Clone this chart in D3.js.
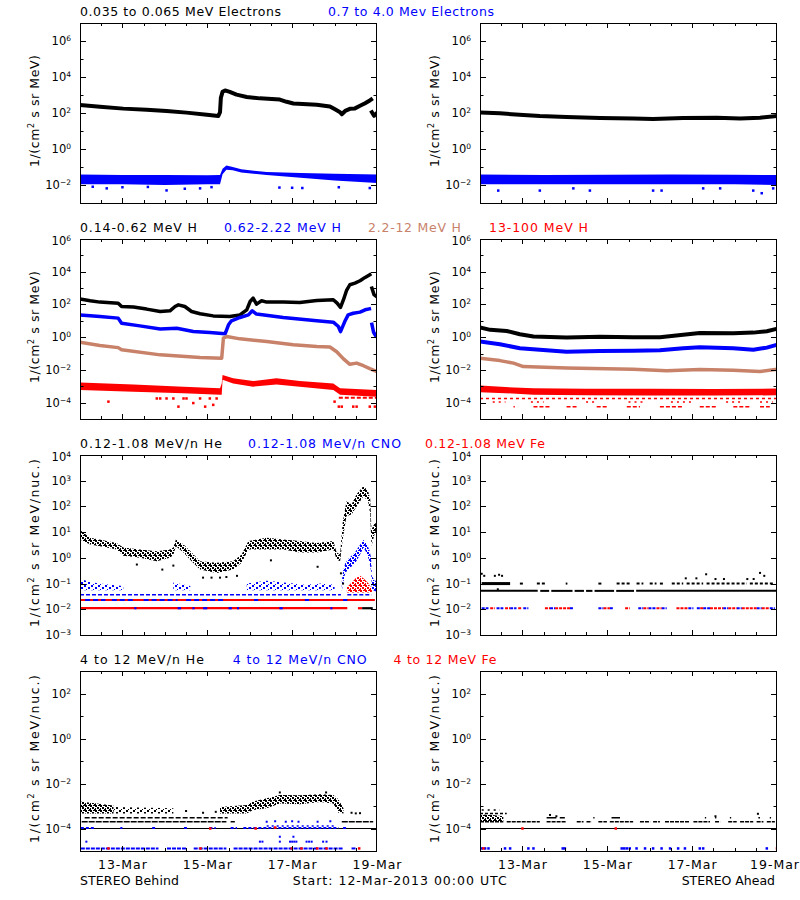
<!DOCTYPE html>
<html><head><meta charset="utf-8">
<script src="https://cdn.jsdelivr.net/npm/d3@7"></script>
<style>
body{margin:0;background:#fff}
svg{display:block}
text{font-family:"DejaVu Sans",sans-serif}
</style></head><body>
<svg id="c" width="800" height="900"></svg>
<script>
// ================= DATA =================
const START = Date.UTC(2013, 2, 12);   // 12-Mar-2013 00:00 UTC
const SPAN_DAYS = 7;
const xTickDays = [1, 3, 5, 7];

const titles = [
  [["0.035 to 0.065 MeV Electrons", "#000000"], ["0.7 to 4.0 Mev Electrons", "#0000ff"]],
  [["0.14-0.62 MeV H", "#000000"], ["0.62-2.22 MeV H", "#0000ff"], ["2.2-12 MeV H", "#c8826a"], ["13-100 MeV H", "#ff0000"]],
  [["0.12-1.08 MeV/n He", "#000000"], ["0.12-1.08 MeV/n CNO", "#0000ff"], ["0.12-1.08 MeV Fe", "#ff0000"]],
  [["4 to 12 MeV/n He", "#000000"], ["4 to 12 MeV/n CNO", "#0000ff"], ["4 to 12 MeV Fe", "#ff0000"]]
];
const yDomains = [[1e-3, 1e7], [1e-5, 1e6], [1e-3, 1e4], [1e-5, 1e3]];
const yLabelTicks = [
  [1e-2, 1, 1e2, 1e4, 1e6],
  [1e-4, 1e-2, 1, 1e2, 1e4, 1e6],
  [1e-3, 1e-2, 1e-1, 1, 10, 100, 1e3, 1e4],
  [1e-4, 1e-2, 1, 1e2]
];
const yTitleUnits = ["MeV)", "MeV)", "MeV/nuc.)", "MeV/nuc.)"];
const footer = ["STEREO Behind", "Start: 12-Mar-2013 00:00 UTC", "STEREO Ahead"];

// ---- Row 1: electrons  [day, flux] ----
const behindElecLow = [[0,280],[0.47,220],[1.02,175],[1.57,150],[2.04,130],[2.51,105],[2.99,80],[3.26,68],[3.3,110],[3.32,700],[3.36,1500],[3.42,1800],[3.53,1500],[3.69,1050],[3.93,780],[4.24,650],[4.71,560],[4.87,420],[5.03,340],[5.58,290],[5.89,230],[6.01,160],[6.13,110],[6.17,85],[6.25,130],[6.36,170],[6.48,180],[6.6,250],[6.72,350],[6.83,500],[6.86,560],null,[6.88,110],[6.93,70],[6.99,95]];
const behindElecHigh = [[0,0.011,0.038],[1,0.011,0.036],[2,0.010,0.036],[3,0.011,0.035],[3.3,0.011,0.036],[3.36,0.04,0.08],[3.45,0.07,0.12],[3.6,0.065,0.1],[3.8,0.05,0.075],[4.4,0.036,0.052],[5.2,0.025,0.046],[6.0,0.018,0.042],[7,0.013,0.038]];
const behindElecHighOut = [[0.3,0.008],[0.63,0.0065],[1.0,0.0075],[1.6,0.0078],[2.04,0.005],[2.47,0.0062],[2.83,0.0065],[3.1,0.0076],[4.7,0.0072],[5.0,0.007],[5.24,0.0068],[6.1,0.0075],[6.83,0.0068]];
const aheadElecLow = [[0,108],[0.47,96],[1.02,77],[1.41,68],[2.04,60],[2.83,53],[3.61,50],[4.08,46],[4.79,53],[5.58,55],[6.13,50],[6.6,55],[6.99,68]];
const aheadElecHigh = [[0,0.011,0.038],[1.5,0.011,0.036],[3,0.011,0.037],[4.5,0.011,0.038],[6,0.011,0.037],[7,0.010,0.036]];
const aheadElecHighOut = [[0.43,0.0049],[1.41,0.0049],[2.2,0.0065],[2.59,0.0049],[4.08,0.0049],[4.28,0.0049],[5.26,0.0065],[5.66,0.0065],[6.44,0.0049],[6.64,0.0035],[6.91,0.0065]];

// ---- Row 2: protons ----
const behindH1 = [[0,213],[0.24,168],[0.47,139],[0.9,120],[0.98,75],[1.26,69],[1.57,52],[1.89,37],[2.12,41],[2.24,75],[2.32,95],[2.47,75],[2.63,37],[2.83,27],[3.14,20],[3.53,18.5],[3.77,23],[3.93,47],[4.01,152],[4.08,245],[4.16,105],[4.28,168],[4.4,139],[4.79,139],[5.18,133],[5.58,175],[5.97,194],[6.06,120],[6.14,66],[6.21,195],[6.28,690],[6.36,1600],[6.48,2000],[6.6,2800],[6.72,4500],[6.83,6600],null,[6.88,1000],[6.93,400],[6.99,300]];
const behindH2 = [[0,23],[0.47,18.5],[0.9,14.6],[0.98,7.2],[1.41,4.9],[1.89,3.2],[2.28,3.5],[2.67,2.2],[3.06,1.9],[3.42,1.6],[3.5,5.7],[3.57,10],[3.77,16],[3.97,23],[4.06,41],[4.16,26],[4.79,16],[5.58,10],[5.97,8.3],[6.09,4.5],[6.14,2.2],[6.24,9],[6.32,23],[6.44,29],[6.6,34],[6.72,47],[6.82,54],null,[6.88,6],[6.92,2],[6.97,1.2]];
const behindH3 = [[0,0.49],[0.47,0.31],[0.9,0.23],[0.98,0.17],[1.89,0.083],[2.83,0.057],[3.34,0.052],[3.38,0.87],[3.46,1.1],[3.77,0.79],[4.4,0.54],[5.03,0.34],[5.58,0.27],[5.89,0.25],[6.05,0.13],[6.21,0.047],[6.36,0.022],[6.52,0.026],[6.68,0.018],[6.83,0.012],[6.99,0.008]];
const behindH4 = [[0,6e-4,1.7e-3],[1.26,4.7e-4,1.3e-3],[2.44,3.7e-4,9.5e-4],[3.3,3e-4,7.6e-4],[3.34,3e-4,1.5e-3],[3.36,2.5e-3,4.9e-3],[3.61,1.5e-3,3.1e-3],[4.08,9.5e-4,2.1e-3],[4.63,1.3e-3,3.1e-3],[5.18,9.5e-4,2.1e-3],[5.97,6e-4,1.5e-3],[6.13,3e-4,7.6e-4],[6.99,2.3e-4,6e-4]];
const behindH4Out = [[0.67,1.15e-4],[1.81,1.8e-4],[1.89,1.8e-4],[2.04,1.8e-4],[2.2,1.8e-4],[2.32,5.7e-5],[2.44,1.8e-4],[2.51,1.8e-4],[2.67,9.4e-5],[2.83,1.8e-4],[2.95,5.7e-5],[3.06,1.8e-4],[3.14,7.3e-5],[3.22,1.8e-4],[6.0,1.15e-4],[6.1,5.7e-5],[6.17,5.7e-5],[6.44,5.7e-5],[6.52,5.7e-5],[6.83,5.7e-5],[6.95,5.7e-5]];
const behindH4Row = [[6.1, 7.0]];            // dense dots at 2e-4
const aheadH1 = [[0,3.9],[0.24,2.8],[0.63,2.4],[0.94,1.5],[1.26,1.1],[2.04,0.95],[2.83,1.05],[3.61,1.0],[4.24,1.0],[4.79,1.4],[5.18,1.8],[5.97,1.75],[6.44,1.9],[6.76,2.3],[6.99,3.2]];
const aheadH2 = [[0,0.54],[0.47,0.37],[0.94,0.21],[1.41,0.17],[2.04,0.13],[2.83,0.145],[3.61,0.15],[4.24,0.16],[4.79,0.21],[5.18,0.24],[5.97,0.21],[6.44,0.17],[6.76,0.23],[6.99,0.34]];
const aheadH3 = [[0,0.052],[0.47,0.037],[0.79,0.026],[1.02,0.016],[2.04,0.013],[3.61,0.011],[4.4,0.009],[5.18,0.0105],[5.97,0.0095],[6.6,0.008],[6.99,0.011]];
const aheadH4 = [[0,4.3e-4,1.1e-3],[0.6,3.8e-4,9e-4],[1.26,3e-4,7.6e-4],[2.5,2.8e-4,7e-4],[4,2.7e-4,7e-4],[5.5,2.7e-4,6.9e-4],[7,2.8e-4,7.2e-4]];
const aheadH4RowA = [[0,7]];                                  // 1.8e-4
const aheadH4RowB = [[0.3,0.6],[1.2,1.5],[2.5,2.7],[3.5,3.9],[4.5,5.0],[5.8,6.2],[6.6,6.9]];   // 1.1e-4
const aheadH4RowC = [[0.79,0.82],[1.26,1.65],[2.04,2.28],[2.75,2.99],[3.46,3.77],[4.24,4.79],[5.18,5.58],[5.97,6.36],[6.6,6.83]]; // 5.7e-5

// ---- Row 3: 0.12-1.08 MeV/n heavy ions  [day, lo, hi] ----
const behindHeLow = [[0,5.2,12],[0.24,3.3,6],[0.63,2.5,4.5],[0.86,2.1,3.8],[1.02,1.2,2.5],[1.41,1.0,2.1],[1.81,0.74,1.8],[2.12,1.0,2.1],[2.2,1.3,2.5],[2.26,2.8,5.2],[2.44,1.6,3.3],[2.63,0.74,1.6],[2.83,0.35,0.74],[3.22,0.26,0.64],[3.61,0.35,0.74],[3.81,0.64,1.35],[3.97,2.1,4.5],[4.4,2.1,6],[4.79,2.1,5.2],[5.18,1.6,4.5],[5.58,1.6,3.8],[5.97,2.1,4.5],[6.05,0.86,1.6],[6.13,0.74,1.35],[6.19,5,23],[6.28,42,160],[6.4,49,120],[6.52,100,295],[6.68,250,620],[6.79,160,400],[6.84,50,200],[6.87,2.8,12.6],[6.95,9.4,23],[7,12,20]];
const behindHeLowOut = [[1.34,0.55],[1.94,0.35],[2.2,0.5],[2.9,0.17],[3.1,0.17],[3.3,0.17],[3.45,0.18],[3.7,0.2],[5.6,0.45],[4.5,0.8],[6.15,0.25],[6.2,0.1]];
const behindCnoA = [[0,0.055,0.15],[0.3,0.055,0.11],[0.7,0.055,0.09],[1.02,0.055,0.08]];
const behindCnoB = [[2.2,0.055,0.11],[2.6,0.055,0.08]];
const behindCnoC = [[3.93,0.055,0.1],[4.4,0.055,0.13],[4.8,0.055,0.11],[5.3,0.055,0.09],[5.7,0.055,0.1],[6.0,0.055,0.09]];
const behindCnoEvent = [[6.17,0.05,0.12],[6.2,0.1,0.3],[6.25,0.25,0.6],[6.32,0.35,0.9],[6.48,0.6,1.6],[6.56,1.0,2.6],[6.64,1.8,4.0],[6.68,2.5,5.0],[6.76,1.5,3.5],[6.82,0.7,2.0],[6.86,0.3,1.0],[6.88,0.06,0.2],[6.95,0.05,0.12],[7,0.05,0.15]];
const behindFeEvent = [[6.29,0.045,0.07],[6.38,0.045,0.1],[6.5,0.045,0.16],[6.6,0.045,0.2],[6.7,0.045,0.15],[6.8,0.045,0.1],[6.88,0.045,0.06]];
const behindCnoRow037 = [[0,6.15],[6.3,6.87]];
const behindFeRow023 = [[0,6.95]];
const behindCnoRow023 = [[0.12,0.6],[0.75,1.3],[1.5,2.3],[2.5,3.4],[4.1,4.2],[5.3,5.4],[6.2,6.3]];
const behindFeRow011 = [[0,6.3],[6.55,6.65]];
const behindCnoRow011 = [[1.28,1.33],[2.3,2.38],[2.65,2.7],[2.9,3.0],[3.5,3.58],[3.7,3.75],[4.7,4.78],[5.9,5.95]];
const behindHeRow011 = [[6.65,6.9]];
const aheadHeRow052 = [[0,1.36],[1.42,1.63],[1.68,2.18],[2.23,2.45],[2.5,2.65],[2.7,3.16],[3.21,3.63],[3.68,7]];
const aheadHeRow10dense = [[0.04,0.71]];
const aheadHeRow10 = [[0.94,1.02],[1.34,1.53],[2.02,2.06],[2.79,2.87],[3.22,3.54],[3.69,3.85],[4.0,4.16],[4.24,4.32],[4.52,4.79],[4.87,5.26],[5.34,6.29],[6.36,6.95]];
const aheadHeOut = [[0.04,0.24],[0.1,0.2],[0.35,0.2],[0.45,0.22],[0.52,0.2],[0.42,0.06],[4.85,0.16],[5.1,0.16],[5.33,0.23],[5.55,0.15],[5.75,0.15],[6.3,0.15],[6.45,0.15],[6.6,0.26],[6.7,0.2]];
const aheadCnoRow011 = [[0.04,0.2],[0.39,0.55],[0.71,0.86],[1.02,1.14],[1.65,1.77],[2.12,2.2],[2.79,2.91],[3.06,3.14],[3.73,3.85],[3.97,4.16],[4.28,4.4],[4.91,5.03],[5.11,5.19],[5.26,5.42],[5.73,5.85],[6.05,6.17],[6.52,6.64],[6.83,6.95]];
const aheadFeRow011 = [[0.24,0.35],[0.59,0.71],[0.9,0.98],[1.53,1.65],[1.77,2.12],[2.91,3.06],[3.42,3.53],[3.85,3.97],[4.16,4.28],[4.63,4.91],[5.19,5.26],[5.42,5.73],[5.85,6.05],[6.17,6.52],[6.64,6.83]];

// ---- Row 4: 4-12 MeV/n heavy ions ----
const behindHeHighA = [[0,4.7e-4,1.6e-3],[0.4,4.7e-4,1.3e-3],[0.79,4.7e-4,1.05e-3]];
const behindHeHighSparse = [[0.79,4.7e-4,9e-4],[2.2,4.7e-4,8e-4]];
const behindHeHighB = [[3.3,4.7e-4,9e-4],[3.93,4.7e-4,1.1e-3],[4.08,6.6e-4,1.6e-3],[4.4,7.9e-4,2.2e-3],[4.71,1.3e-3,3.1e-3],[5.18,1.2e-3,3e-3],[5.66,1.5e-3,3.3e-3],[5.97,1.3e-3,3.1e-3],[6.09,5e-4,2e-3],[6.21,4.7e-4,8e-4]];
const behindHeHighOut = [[2.5,6e-4],[2.9,5e-4],[3.2,5.5e-4],[4.71,4e-3],[5.8,4e-3],[6.4,5e-4],[6.5,4.7e-4],[6.6,4.8e-4]];
const behindHeHighRow3 = [[0.11,3.48]];              // 3e-4
const behindHeHighRow2 = [[0.04,3.45],[3.55,3.65],[6.17,6.91]];   // 2e-4
const behindCnoHighRow1 = [[0.02,0.35],[0.95,1.0],[1.7,1.8],[2.45,2.55],[3.05,3.2],[3.55,3.7],[3.85,6.1],[6.2,6.3]];
const behindCnoHighRow13 = [[4.4,6.0]];
const behindCnoHighDots = [[4.4,2e-4],[4.6,2.1e-4],[4.85,2e-4],[5.0,2.1e-4],[5.15,2e-4],[5.6,2e-4],[5.9,2.1e-4],[0.15,2.6e-5],[4.24,2.6e-5],[4.3,2.6e-5],[4.71,2.6e-5],[4.95,2.6e-5],[5.0,2.6e-5],[5.05,2.6e-5],[5.1,2.6e-5],[5.34,2.6e-5],[5.4,2.6e-5],[5.46,2.6e-5],[5.73,2.6e-5],[5.81,2.6e-5],[4.71,4.3e-5],[5.03,4.3e-5]];
const behindCnoHighLow = [[0.02,1.85],[2.05,2.5],[2.68,3.45],[3.62,6.21],[6.4,6.5]];   // 1.3e-5
const behindFeHighDots = [[0.67,1.3e-5],[2.84,1.3e-5],[4.99,1.3e-5],[5.22,1.3e-5],[5.59,1.3e-5],[5.81,1.3e-5],[6.58,1.3e-5],[3.07,1e-4],[4.14,1e-4],[4.6,1.1e-4]];
const aheadHeHighA = [[0,2e-4,4.2e-4],[0.3,2e-4,4e-4],[0.55,2e-4,3.5e-4]];
const aheadHeHighRow66 = [[0.04,0.47]];
const aheadHeHighRow47 = [[0,0.63]];
const aheadHeHighRow3 = [[1.57,1.8],[1.88,2.0],[2.67,2.7],[3.1,3.3],[5.3,5.33],[5.54,5.57],[5.89,5.92],[6.56,6.6],[6.83,6.86]];
const aheadHeHighRow2 = [[0,0.55],[0.63,1.41],[1.57,2.04],[2.28,2.44],[2.51,2.63],[2.79,2.99],[3.06,3.61],[3.77,4.01],[4.08,4.24],[4.36,4.95],[5.03,5.42],[5.54,5.66],[5.85,6.05],[6.13,6.44],[6.52,6.68],[6.76,6.95]];
const aheadHeHighOut = [[1.65,4e-4],[1.8,3.5e-4],[5.55,3.5e-4],[6.55,4.5e-4]];
const aheadCnoHighDots = [[0.04,1.3e-5],[0.12,1.3e-5],[0.2,1.3e-5],[0.59,1.3e-5],[0.71,1.3e-5],[1.14,1.3e-5],[1.26,1.3e-5],[1.95,1.3e-5],[2.0,1.3e-5],[3.34,1.3e-5],[3.4,1.3e-5],[3.46,1.3e-5],[3.53,1.3e-5],[3.69,1.3e-5],[3.89,1.3e-5],[4.08,1.3e-5],[4.28,1.3e-5],[4.48,1.3e-5],[4.67,1.3e-5],[4.83,1.3e-5],[5.18,1.3e-5],[5.26,1.3e-5],[6.76,1.3e-5]];
const aheadFeHighDots = [[0.08,1.3e-5],[7.0,1.3e-5],[1.0,1e-4],[3.2,1e-4]];
const fullRow = [[0,7]];

// ================= DRAWING =================
const BLACK = "#000000", BLUE = "#0000ff", BROWN = "#c8826a", RED = "#ff0000";
const T = d => new Date(START + d * 86400000);
const colX = [80, 480], rowTop = [23, 239, 455, 671], W = 297, H = 180;
const svg = d3.select("#c");
const defs = svg.append("defs");

function makePattern(id, color, w, h, rects) {
  const p = defs.append("pattern").attr("id", id).attr("patternUnits", "userSpaceOnUse")
    .attr("width", w).attr("height", h);
  rects.forEach(([rx, ry, rw, rh]) =>
    p.append("rect").attr("x", rx).attr("y", ry).attr("width", rw).attr("height", rh).attr("fill", color));
}
[[BLACK,"k"],[BLUE,"b"],[RED,"r"]].forEach(([c,n]) => {
  makePattern("dense-" + n, c, 5, 5, [[0,0,2,2],[2,2,2,2],[3,0,2,1],[0,3,1,2],[4,4,1,1]]);
  makePattern("sparse-" + n, c, 7, 5, [[0,0,2,2],[4,2,2,2],[2,4,1,1]]);
});

const panels = [
  [ // row 0
    [{type:"band", data:behindElecHigh, fill:BLUE},
     {type:"dots", data:behindElecHighOut, color:BLUE, s:2.5},
     {type:"line", data:behindElecLow, color:BLACK, w:4}],
    [{type:"band", data:aheadElecHigh, fill:BLUE},
     {type:"dots", data:aheadElecHighOut, color:BLUE, s:2.5},
     {type:"line", data:aheadElecLow, color:BLACK, w:4}]
  ],
  [ // row 1
    [{type:"band", data:behindH4, fill:RED},
     {type:"dots", data:behindH4Out, color:RED, s:2.5},
     {type:"rows", value:2e-4, segs:behindH4Row, color:RED, w:2, dash:"4,2"},
     {type:"line", data:behindH1, color:BLACK, w:3.5},
     {type:"line", data:behindH2, color:BLUE, w:3.5},
     {type:"line", data:behindH3, color:BROWN, w:3.5}],
    [{type:"band", data:aheadH4, fill:RED},
     {type:"rows", value:1.8e-4, segs:aheadH4RowA, color:RED, w:1.5, dash:"3,3"},
     {type:"rows", value:1.1e-4, segs:aheadH4RowB, color:RED, w:1.5, dash:"2,4"},
     {type:"rows", value:5.7e-5, segs:aheadH4RowC, color:RED, w:1.5, dash:"4,2"},
     {type:"line", data:aheadH1, color:BLACK, w:4},
     {type:"line", data:aheadH2, color:BLUE, w:4},
     {type:"line", data:aheadH3, color:BROWN, w:3.5}]
  ],
  [ // row 2
    [{type:"rows", value:0.037, segs:behindCnoRow037, color:BLUE, w:1.5, dash:"4,2"},
     {type:"rows", value:0.023, segs:behindFeRow023, color:RED, w:2},
     {type:"rows", value:0.023, segs:behindCnoRow023, color:BLUE, w:2, dash:"5,3"},
     {type:"rows", value:0.011, segs:behindFeRow011, color:RED, w:2.2},
     {type:"rows", value:0.011, segs:behindCnoRow011, color:BLUE, w:2.2},
     {type:"rows", value:0.011, segs:behindHeRow011, color:BLACK, w:2.2},
     {type:"band", data:behindCnoA, fill:"url(#sparse-b)"},
     {type:"band", data:behindCnoB, fill:"url(#sparse-b)"},
     {type:"band", data:behindCnoC, fill:"url(#sparse-b)"},
     {type:"band", data:behindFeEvent, fill:"url(#dense-r)"},
     {type:"band", data:behindCnoEvent, fill:"url(#dense-b)"},
     {type:"band", data:behindHeLow, fill:"url(#dense-k)"},
     {type:"dots", data:behindHeLowOut, color:BLACK, s:2}],
    [{type:"rows", value:0.052, segs:aheadHeRow052, color:BLACK, w:2},
     {type:"rows", value:0.1, segs:aheadHeRow10dense, color:BLACK, w:3},
     {type:"rows", value:0.1, segs:aheadHeRow10, color:BLACK, w:2, dash:"3,2"},
     {type:"dots", data:aheadHeOut, color:BLACK, s:2},
     {type:"rows", value:0.011, segs:aheadCnoRow011, color:BLUE, w:2, dash:"3,1"},
     {type:"rows", value:0.011, segs:aheadFeRow011, color:RED, w:2, dash:"3,1"}]
  ],
  [ // row 3
    [{type:"rows", value:1e-4, segs:fullRow, color:BLACK, w:1},
     {type:"rows", value:3e-4, segs:behindHeHighRow3, color:BLACK, w:1.5, dash:"5,2"},
     {type:"rows", value:2e-4, segs:behindHeHighRow2, color:BLACK, w:1.5, dash:"6,1"},
     {type:"band", data:behindHeHighA, fill:"url(#dense-k)"},
     {type:"band", data:behindHeHighSparse, fill:"url(#sparse-k)"},
     {type:"band", data:behindHeHighB, fill:"url(#dense-k)"},
     {type:"dots", data:behindHeHighOut, color:BLACK, s:2},
     {type:"rows", value:1.05e-4, segs:behindCnoHighRow1, color:BLUE, w:2, dash:"3,2"},
     {type:"rows", value:1.3e-4, segs:behindCnoHighRow13, color:BLUE, w:1.5, dash:"2,3"},
     {type:"dots", data:behindCnoHighDots, color:BLUE, s:2},
     {type:"rows", value:1.3e-5, segs:behindCnoHighLow, color:BLUE, w:2, dash:"4,1"},
     {type:"dots", data:behindFeHighDots, color:RED, s:2.5}],
    [{type:"rows", value:1e-4, segs:fullRow, color:BLACK, w:1},
     {type:"band", data:aheadHeHighA, fill:"url(#dense-k)"},
     {type:"rows", value:6.6e-4, segs:aheadHeHighRow66, color:BLACK, w:1.5, dash:"2,4"},
     {type:"rows", value:4.7e-4, segs:aheadHeHighRow47, color:BLACK, w:1.5, dash:"3,2"},
     {type:"rows", value:3e-4, segs:aheadHeHighRow3, color:BLACK, w:1.5},
     {type:"rows", value:2e-4, segs:aheadHeHighRow2, color:BLACK, w:1.5, dash:"4,1"},
     {type:"dots", data:aheadHeHighOut, color:BLACK, s:2},
     {type:"dots", data:aheadCnoHighDots, color:BLUE, s:2.5},
     {type:"dots", data:aheadFeHighDots, color:RED, s:2.5}]
  ]
];

function superLabel(g, xEnd, yBase, base, exp, fs, fsSup, dy) {
  const t = g.append("text").attr("x", xEnd).attr("y", yBase).attr("text-anchor", "end")
    .attr("font-size", fs).attr("fill", "#000");
  t.append("tspan").text(base);
  t.append("tspan").attr("font-size", fsSup).attr("dy", dy).text(exp);
}

function drawPanel(r, c) {
  const x0 = colX[c], top = rowTop[r];
  const x = d3.scaleUtc().domain([T(0), T(SPAN_DAYS)]).range([x0, x0 + W]);
  const y = d3.scaleLog().domain(yDomains[r]).range([top + H, top]);
  const g = svg.append("g");
  const cid = `clip-${r}-${c}`;
  defs.append("clipPath").attr("id", cid).append("rect")
    .attr("x", x0).attr("y", top).attr("width", W).attr("height", H);
  const dg = g.append("g").attr("clip-path", `url(#${cid})`);

  panels[r][c].forEach(L => {
    if (L.type === "line") {
      const line = d3.line().defined(d => d !== null)
        .x(d => x(T(d[0]))).y(d => y(d[1]));
      dg.append("path").attr("d", line(L.data)).attr("fill", "none")
        .attr("stroke", L.color).attr("stroke-width", L.w)
        .attr("stroke-linejoin", "round").attr("stroke-linecap", "square");
    } else if (L.type === "band") {
      const area = d3.area().x(d => x(T(d[0]))).y0(d => y(d[1])).y1(d => y(d[2]));
      dg.append("path").attr("d", area(L.data)).attr("fill", L.fill);
    } else if (L.type === "dots") {
      dg.selectAll(null).data(L.data).join("rect")
        .attr("x", d => x(T(d[0])) - L.s / 2).attr("y", d => y(d[1]) - L.s / 2)
        .attr("width", L.s).attr("height", L.s).attr("fill", L.color);
    } else if (L.type === "rows") {
      dg.selectAll(null).data(L.segs).join("line")
        .attr("x1", d => x(T(d[0]))).attr("x2", d => x(T(d[1])))
        .attr("y1", y(L.value)).attr("y2", y(L.value))
        .attr("stroke", L.color).attr("stroke-width", L.w)
        .attr("stroke-dasharray", L.dash || null);
    }
  });

  // frame
  g.append("rect").attr("x", x0 + 0.5).attr("y", top + 0.5).attr("width", W - 1).attr("height", H)
    .attr("fill", "none").attr("stroke", "#000").attr("stroke-width", 1);

  // x ticks (inward, bottom & top)
  const minor = d3.utcHour.every(12).range(T(0), T(SPAN_DAYS));
  const major = [T(1), T(3), T(5)];
  const tg = g.append("g").attr("stroke", "#000").attr("stroke-width", 1);
  const xt = (ticks, len) => ticks.forEach(t => {
    const xx = Math.round(x(t)) + 0.5;
    tg.append("line").attr("x1", xx).attr("x2", xx).attr("y1", top + H).attr("y2", top + H - len);
    tg.append("line").attr("x1", xx).attr("x2", xx).attr("y1", top).attr("y2", top + len);
  });
  xt(minor.filter(t => +t > +T(0)), 3);
  xt(major, 5);

  // y ticks (inward, left & right)
  const [lo, hi] = yDomains[r];
  const decades = d3.range(Math.round(Math.log10(lo)) + 1, Math.round(Math.log10(hi))).map(e => Math.pow(10, e));
  const labeled = new Set(yLabelTicks[r].map(v => Math.round(Math.log10(v))));
  decades.forEach(v => {
    const e = Math.round(Math.log10(v));
    const len = labeled.has(e) ? 6 : 3.5;
    const yy = Math.round(y(v)) + 0.5;
    tg.append("line").attr("x1", x0).attr("x2", x0 + len).attr("y1", yy).attr("y2", yy);
    tg.append("line").attr("x1", x0 + W).attr("x2", x0 + W - len).attr("y1", yy).attr("y2", yy);
  });
  yLabelTicks[r].forEach(v => {
    const e = Math.round(Math.log10(v));
    const yy = y(v);
    const atTop = Math.abs(yy - top) < 2;
    superLabel(g, x0 - 9, yy + (atTop ? 6 : 4), "10", e < 0 ? "\u2212" + (-e) : String(e), 11.5, 7.5, -4);
  });

  // y title
  const yt = g.append("text").attr("font-size", 12.5).attr("text-anchor", "middle")
    .attr("transform", `translate(${x0 - 41},${top + H / 2 - 2}) rotate(-90)`)
    .attr("textLength", r < 2 ? 112 : 168).attr("lengthAdjust", "spacing");
  yt.append("tspan").text("1/(cm");
  yt.append("tspan").attr("font-size", 8).attr("dy", -5).text("2");
  yt.append("tspan").attr("dy", 5).text(" s sr " + yTitleUnits[r]);

  // x tick labels on last row
  if (r === 3) {
    const fmt = d3.utcFormat("%d-%b");
    xTickDays.forEach(dd => {
      const xx = Math.min(x(T(dd)), 800 - 25.5);
      g.append("text").attr("x", xx).attr("y", top + H + 18).attr("text-anchor", "middle")
        .attr("font-size", 12.5).attr("textLength", 49).attr("lengthAdjust", "spacing")
        .text(fmt(T(dd)));
    });
  }
}

for (let r = 0; r < 4; r++) for (let c = 0; c < 2; c++) drawPanel(r, c);

// titles
const titleX = [[80, 328], [80, 224, 368, 489], [80, 248, 425], [80, 232.7, 393.5]];
const titleW = [[201, 166], [117, 117, 93, 99], [142, 153, 120], [124, 134, 103]];
titles.forEach((row, r) => row.forEach(([txt, col], i) => {
  svg.append("text").attr("x", titleX[r][i]).attr("y", rowTop[r] - 7)
    .attr("font-size", 12.5).attr("fill", col)
    .attr("textLength", titleW[r][i]).attr("lengthAdjust", "spacing").text(txt);
}));

// footer
const footX = [80, 292.7, 681.7], footW = [99, 214, 93.3];
footer.forEach((txt, i) => {
  svg.append("text").attr("x", footX[i]).attr("y", 885).attr("font-size", 12.5)
    .attr("textLength", footW[i]).attr("lengthAdjust", "spacing").text(txt);
});
</script>
</body></html>
